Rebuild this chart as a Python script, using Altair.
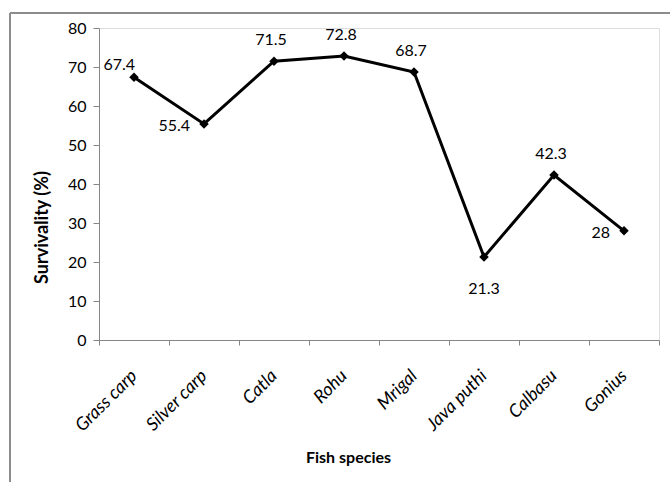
import altair as alt
import pandas as pd

species = ["Grass carp", "Silver carp", "Catla", "Rohu", "Mrigal", "Java puthi", "Calbasu", "Gonius"]
survival = [67.4, 55.4, 71.5, 72.8, 68.7, 21.3, 42.3, 28]
label_text = ["67.4", "55.4", "71.5", "72.8", "68.7", "21.3", "42.3", "28"]
label_place = ["upleft", "left", "above", "above", "above", "below", "above", "left"]
y_ticks = [0, 10, 20, 30, 40, 50, 60, 70, 80]

df = pd.DataFrame({"species": species, "survival": survival, "label": label_text, "place": label_place})

FONT = "Lato"
GRAY = "#868686"

x_enc = alt.X(
    "species:N",
    sort=species,
    scale=alt.Scale(type="band", paddingInner=0, paddingOuter=0),
    axis=alt.Axis(
        title="Fish species",
        tickBand="extent",
        labelAngle=315,
        labelAlign="right",
        labelBaseline="middle",
        labelPadding=28,
        tickSize=5,
        labelFont=FONT,
        labelFontSize=18,
        labelFontStyle="italic",
        labelColor="#000000",
        titleFont=FONT,
        titleFontSize=16,
        titleFontWeight="bold",
        titleColor="#000000",
        titleX=249,
        titleY=117,
        titleAlign="center",
        titleBaseline="middle",
        domainColor=GRAY,
        tickColor=GRAY,
        grid=False,
    ),
)
y_enc = alt.Y(
    "survival:Q",
    scale=alt.Scale(domain=[0, 80], nice=False, zero=True),
    axis=alt.Axis(
        title="Survivality (%)",
        values=y_ticks,
        tickSize=6,
        labelPadding=7,
        labelFont=FONT,
        labelFontSize=16,
        labelColor="#000000",
        titleFont=FONT,
        titleFontSize=18,
        titleFontWeight="bold",
        titleColor="#000000",
        titleAngle=270,
        titleX=-57,
        titleY=199,
        titleAlign="center",
        titleBaseline="middle",
        domainColor=GRAY,
        tickColor=GRAY,
        grid=False,
    ),
)

base = alt.Chart(df)

line = base.mark_line(color="#000000", strokeWidth=3).encode(x=x_enc, y=y_enc)
pts = base.mark_point(shape="diamond", filled=True, color="#000000", size=90, opacity=1).encode(x=x_enc, y=y_enc)

txt_common = dict(font=FONT, fontSize=16, color="#000000", baseline="middle")
above = base.transform_filter(alt.datum.place == "above").mark_text(dx=-3, dy=-21, align="center", **txt_common).encode(x=x_enc, y=y_enc, text="label:N")
below = base.transform_filter(alt.datum.place == "below").mark_text(dx=0, dy=32, align="center", **txt_common).encode(x=x_enc, y=y_enc, text="label:N")
left = base.transform_filter(alt.datum.place == "left").mark_text(dx=-14, dy=2, align="right", **txt_common).encode(x=x_enc, y=y_enc, text="label:N")
upleft = base.transform_filter(alt.datum.place == "upleft").mark_text(dx=1, dy=-12, align="right", **txt_common).encode(x=x_enc, y=y_enc, text="label:N")

frame_top = alt.Chart(df).mark_rule(color="#8c8c8c", strokeWidth=2).encode(
    x=alt.value(-89), x2=alt.value(575), y=alt.value(-15)
)
frame_left = alt.Chart(df).mark_rule(color="#8c8c8c", strokeWidth=2).encode(
    x=alt.value(-89), y=alt.value(-15), y2=alt.value(460)
)

chart = alt.layer(frame_top, frame_left, line, pts, above, below, left, upleft).properties(
    width=560,
    height=312,
    autosize=alt.AutoSizeParams(type="none"),
    padding={"left": 99, "top": 28, "right": 11, "bottom": 142},
).configure_view(stroke=None).configure(background="#ffffff")

chart.save("out.html", embed_options={"renderer": "svg", "actions": False})
